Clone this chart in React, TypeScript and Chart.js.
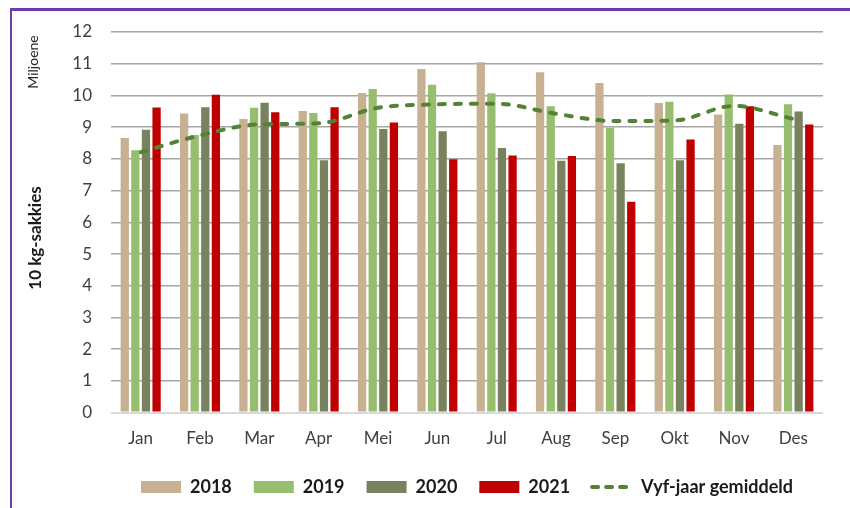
import React, { useEffect, useRef } from "react";
import { Chart, registerables } from "chart.js";

Chart.register(...registerables);

const months = ["Jan", "Feb", "Mar", "Apr", "Mei", "Jun", "Jul", "Aug", "Sep", "Okt", "Nov", "Des"];
const y2018 = [8.66, 9.43, 9.26, 9.51, 10.08, 10.83, 11.05, 10.73, 10.39, 9.76, 9.40, 8.44];
const y2019 = [8.27, 8.75, 9.61, 9.45, 10.20, 10.34, 10.07, 9.66, 8.98, 9.80, 10.03, 9.72];
const y2020 = [8.92, 9.63, 9.77, 7.96, 8.94, 8.87, 8.34, 7.94, 7.86, 7.96, 9.11, 9.49];
const y2021 = [9.62, 10.02, 9.47, 9.63, 9.15, 7.99, 8.11, 8.09, 6.65, 8.61, 9.66, 9.08];
const avg5 = [8.21, 8.74, 9.09, 9.12, 9.61, 9.72, 9.74, 9.42, 9.19, 9.21, 9.67, 9.26];
const seriesNames = ["2018", "2019", "2020", "2021", "Vyf-jaar gemiddeld"];
const yMin = 0;
const yMax = 12;
const yStep = 1;
const unitLabel = "Miljoene";
const axisTitle = "10 kg-sakkies";

const FONT = "Lato, 'Open Sans', sans-serif";
const LEGEND_PAD = 22;
const LEGEND_FONT = 18;
const CANVAS_H = 506;

const axisTextPlugin = {
  id: "axisText",
  afterDraw(chart: any) {
    const ctx = chart.ctx;
    ctx.save();
    ctx.fillStyle = "#262626";
    ctx.textAlign = "center";
    ctx.textBaseline = "middle";
    ctx.save();
    ctx.translate(33, 62);
    ctx.rotate(-Math.PI / 2);
    ctx.font = `14px ${FONT}`;
    ctx.fillText(unitLabel, 0, 0);
    ctx.restore();
    ctx.save();
    ctx.translate(36, 238);
    ctx.rotate(-Math.PI / 2);
    ctx.font = `bold 17px ${FONT}`;
    ctx.fillStyle = "#1a1a1a";
    ctx.fillText(axisTitle, 0, 0);
    ctx.restore();
    ctx.restore();
  },
};

export default function App() {
  const ref = useRef<HTMLCanvasElement | null>(null);

  useEffect(() => {
    if (!ref.current) return;
    const barCommon = {
      type: "bar" as const,
      categoryPercentage: 0.715,
      barPercentage: 0.78,
      borderWidth: 0,
      pointStyle: "rect",
      order: 1,
    };
    const chart = new Chart(ref.current, {
      type: "bar",
      data: {
        labels: months,
        datasets: [
          { ...barCommon, label: seriesNames[0], data: y2018, backgroundColor: "#C8B092", borderColor: "#C8B092" },
          { ...barCommon, label: seriesNames[1], data: y2019, backgroundColor: "#97BE6E", borderColor: "#97BE6E" },
          { ...barCommon, label: seriesNames[2], data: y2020, backgroundColor: "#78825F", borderColor: "#78825F" },
          { ...barCommon, label: seriesNames[3], data: y2021, backgroundColor: "#C00000", borderColor: "#C00000" },
          {
            type: "line" as const,
            label: seriesNames[4],
            data: avg5,
            borderColor: "#548235",
            backgroundColor: "#548235",
            borderWidth: 4,
            borderDash: [6, 10],
            borderCapStyle: "round",
            tension: 0.4,
            cubicInterpolationMode: "monotone",
            pointRadius: 0,
            pointStyle: "line",
            fill: false,
            order: 0,
          } as any,
        ],
      },
      options: {
        responsive: false,
        animation: false,
        devicePixelRatio: 1,
        layout: { padding: { top: 32, right: 27, left: 0, bottom: 0 } },
        plugins: {
          tooltip: { enabled: false },
          legend: {
            position: "bottom",
            fullSize: false,
            labels: {
              usePointStyle: true,
              pointStyleWidth: 40,
              boxWidth: 40,
              boxHeight: 12,
              padding: LEGEND_PAD,
              color: "#1a1a1a",
              font: { family: FONT, size: LEGEND_FONT, weight: "bold" },
              sort: (a: any, b: any) => a.datasetIndex - b.datasetIndex,
              generateLabels: (c: any) => {
                const items = (Chart.defaults.plugins.legend.labels as any).generateLabels(c);
                items.forEach((it: any) => {
                  if (it.datasetIndex === 4) {
                    it.lineDash = [6, 8];
                    it.lineCap = "round";
                    it.lineWidth = 4;
                    it.strokeStyle = "#548235";
                  } else {
                    it.lineWidth = 0;
                  }
                });
                return items;
              },
            },
          },
        },
        scales: {
          x: {
            grid: { display: false, drawTicks: false },
            border: { display: false },
            ticks: { color: "#404040", font: { family: FONT, size: 17 }, padding: 16 },
            afterFit: (scale: any) => {
              scale.height = CANVAS_H - LEGEND_FONT * 1.2 - LEGEND_PAD - 10 - 409;
            },
          },
          y: {
            min: yMin,
            max: yMax,
            ticks: { stepSize: yStep, color: "#404040", font: { family: FONT, size: 17 }, padding: 19 },
            grid: {
              drawTicks: false,
              color: (c: any) => (c.tick && c.tick.value === 0 ? "#d9d9d9" : "#a6a6a6"),
              lineWidth: (c: any) => (c.tick && c.tick.value === 0 ? 2 : 1.5),
            },
            border: { display: false },
            afterFit: (scale: any) => {
              scale.width = 111;
            },
          },
        },
      },
      plugins: [axisTextPlugin],
    } as any);
    return () => chart.destroy();
  }, []);

  return (
    <div style={{ position: "fixed", left: 0, top: 0, width: 850, height: 508, overflow: "hidden", background: "#fff" }}>
      <div
        style={{
          position: "absolute",
          left: 10,
          top: 8,
          width: 900,
          height: 600,
          borderTop: "3px solid #6B3FA6",
          borderLeft: "2px solid #6B3FA6",
        }}
      />
      <canvas ref={ref} width={850} height={CANVAS_H} style={{ position: "absolute", left: 0, top: 0 }} />
    </div>
  );
}
